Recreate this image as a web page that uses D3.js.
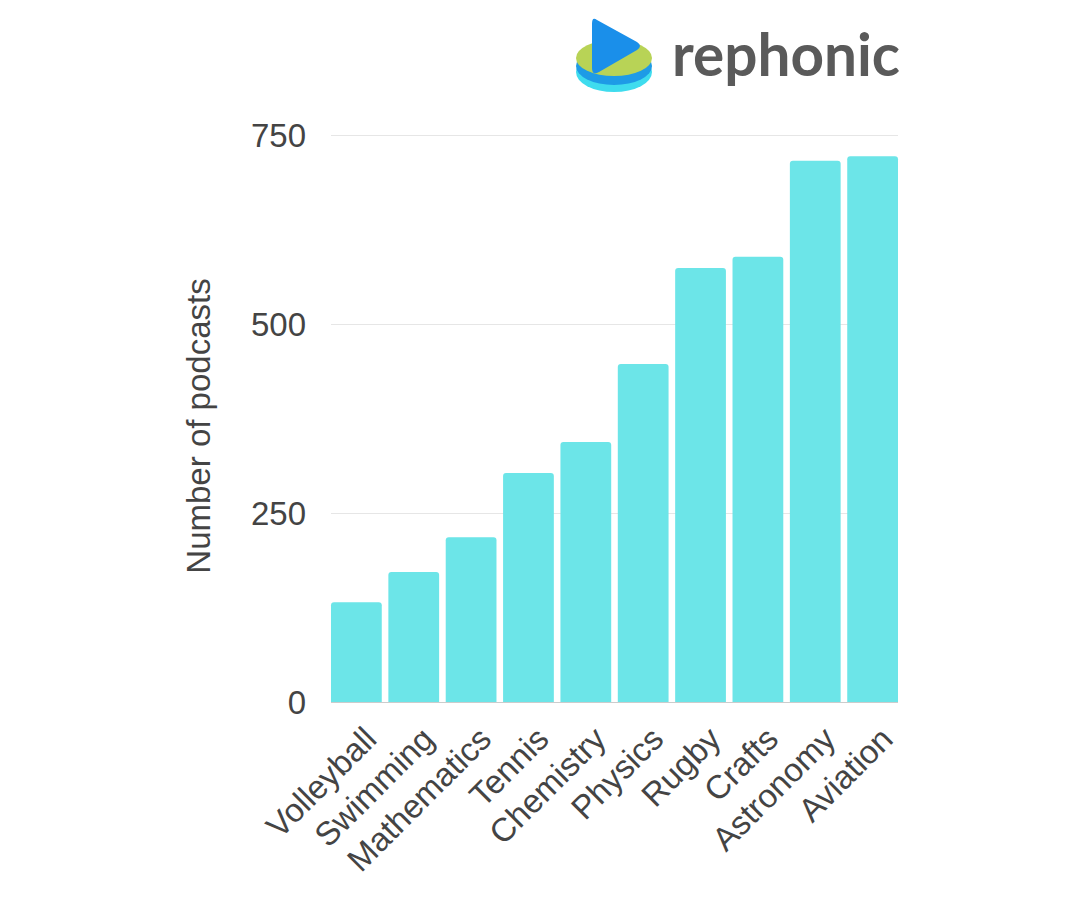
<!DOCTYPE html>
<html><head><meta charset="utf-8">
<script src="https://cdn.jsdelivr.net/npm/d3@7"></script>
<style>body{margin:0;background:#fff}</style>
</head><body>
<script>
const categories = ["Volleyball","Swimming","Mathematics","Tennis","Chemistry","Physics","Rugby","Crafts","Astronomy","Aviation"];
const values = [132,172,218,303,344,447,574,589,716,722];
const yTicks = [0,250,500,750];

const W=1080,H=900;
const svg=d3.select("body").append("svg").attr("width",W).attr("height",H);
const m={left:331,right:898,top:135,bottom:702};
const x=d3.scaleBand().domain(categories).range([m.left,m.right]).paddingInner(0.115).paddingOuter(0);
const y=d3.scaleLinear().domain([0,750]).range([m.bottom,m.top]);
const font="'Liberation Sans', Arial, sans-serif";
const fs=33;

// grid
const yAxis=d3.axisLeft(y).tickValues(yTicks).tickSize(-(m.right-m.left)).tickPadding(25);
const ga=svg.append("g").attr("transform",`translate(${m.left},0)`).call(yAxis);
ga.select(".domain").remove();
ga.selectAll(".tick line").attr("stroke","#e6e6e6").attr("stroke-width",1);
ga.selectAll(".tick text").attr("font-family",font).attr("font-size",fs).attr("fill","#444").attr("dy","0.35em");

// bars
const r=3;
svg.append("g").selectAll("path").data(values).join("path")
 .attr("fill","#6ce5e8")
 .attr("d",(d,i)=>{const x0=x(categories[i]),w=x.bandwidth(),y0=y(d),y1=y(0);
   return `M${x0},${y1}V${y0+r}Q${x0},${y0} ${x0+r},${y0}H${x0+w-r}Q${x0+w},${y0} ${x0+w},${y0+r}V${y1}Z`;});

// baseline
svg.append("line").attr("x1",m.left).attr("x2",m.right).attr("y1",y(0)+0.5).attr("y2",y(0)+0.5).attr("stroke","#ccc");

// x labels
const xAxis=d3.axisBottom(x).tickSize(0).tickPadding(0);
const gx=svg.append("g").attr("transform",`translate(0,${m.bottom})`).call(xAxis);
gx.select(".domain").remove();
gx.selectAll(".tick text").attr("font-family",font).attr("font-size",fs).attr("fill","#444")
 .attr("text-anchor","end").attr("transform","translate(14,31) rotate(-45)").attr("dy","0.35em");

// y title
svg.append("text").attr("transform","translate(210,426) rotate(-90)").attr("text-anchor","middle")
 .attr("font-family",font).attr("font-size",fs).attr("fill","#444").text("Number of podcasts");

// logo
const lg=svg.append("g");
lg.append("ellipse").attr("cx",614).attr("cy",72).attr("rx",38).attr("ry",20).attr("fill","#3fdcee");
lg.append("ellipse").attr("cx",614).attr("cy",66).attr("rx",38).attr("ry",19).attr("fill","#1e9be6");
lg.append("ellipse").attr("cx",614).attr("cy",58).attr("rx",38).attr("ry",18).attr("fill","#b8d356");
lg.append("path").attr("d","M597,20 Q592,16 592,24 L592,68 Q592,76 599,72 L637,50 Q643,46 637,42 Z").attr("fill","#1a8fea");
lg.append("text").attr("x",672).attr("y",76).attr("font-family","Lato, 'Open Sans', sans-serif").attr("font-weight",700)
 .attr("font-size",60).attr("fill","#5a5a5a").attr("textLength",228).attr("lengthAdjust","spacingAndGlyphs").text("rephonic");
</script>
</body></html>
